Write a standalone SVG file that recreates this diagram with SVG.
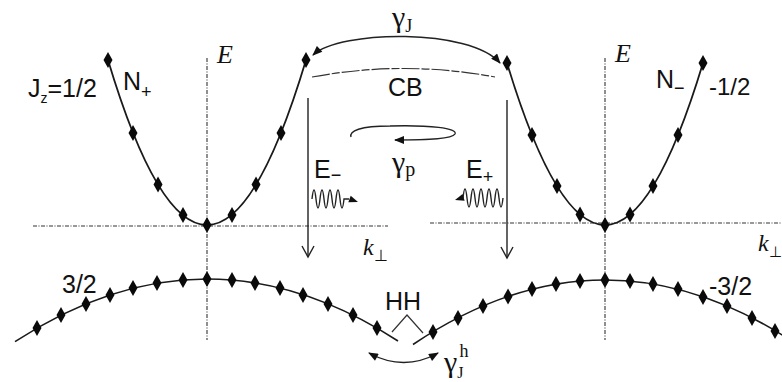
<svg xmlns="http://www.w3.org/2000/svg" xmlns:xlink="http://www.w3.org/1999/xlink" width="782" height="382" viewBox="0 0 782 382">
<style>
.band{fill:none;stroke:#1a1a1a;stroke-width:1.8}
.hband{fill:none;stroke:#1a1a1a;stroke-width:1.6}
.axis{fill:none;stroke:#333;stroke-width:1.1;stroke-dasharray:4 1.5 1 1.5}
.thin{fill:none;stroke:#333;stroke-width:1.2}
.arr{fill:none;stroke:#222;stroke-width:1.4}
.sans{font-family:"Liberation Sans",Arial,sans-serif;fill:#111}
.serif{font-family:"Liberation Serif","Times New Roman",serif;fill:#111}
.dm{fill:#0a0a0a}
</style>
<defs>
<path id="d" class="dm" d="M0,-8 L4.5,0 L0,8 L-4.5,0Z"/>
<marker id="ah" viewBox="0 0 10 8" refX="9" refY="4" markerWidth="11" markerHeight="8" markerUnits="userSpaceOnUse" orient="auto-start-reverse">
<path d="M0,0 L10,4 L0,8z" fill="#111"/>
</marker>
</defs>

<g id="axes">
<line class="axis" x1="207" y1="58" x2="207" y2="340"/>
<line class="axis" x1="605" y1="58" x2="605" y2="340"/>
<line class="axis" x1="33" y1="226" x2="388" y2="226"/>
<line class="axis" x1="430" y1="223" x2="782" y2="223"/>
<text class="serif" x="217" y="63" font-size="26" font-style="italic">E</text>
<text class="serif" x="615" y="62" font-size="26" font-style="italic">E</text>
<text class="serif" x="363" y="255" font-size="24" font-style="italic">k<tspan font-size="16" font-style="normal" dy="6">⊥</tspan></text>
<text class="serif" x="758" y="251" font-size="24" font-style="italic">k<tspan font-size="15" font-style="normal" dy="6">⊥</tspan></text>
</g>

<g id="band-Nplus">
<path class="band" d="M108,60 Q207,390 306,60"/>
<use xlink:href="#d" x="108" y="60"/>
<use xlink:href="#d" x="133" y="133"/>
<use xlink:href="#d" x="158" y="184.6"/>
<use xlink:href="#d" x="183" y="215"/>
<use xlink:href="#d" x="207" y="225"/>
<use xlink:href="#d" x="232" y="215"/>
<use xlink:href="#d" x="256" y="184.6"/>
<use xlink:href="#d" x="281" y="133"/>
<use xlink:href="#d" x="306" y="60"/>
<text class="sans" x="28" y="97" font-size="25">J<tspan font-size="14" dy="6">z</tspan><tspan dy="-6">=1/2</tspan></text>
<text class="sans" x="123" y="90" font-size="25">N<tspan font-size="18" dy="8">+</tspan></text>
</g>

<g id="band-Nminus">
<path class="band" d="M507,63 Q605,387 703,63"/>
<use xlink:href="#d" x="507" y="63"/>
<use xlink:href="#d" x="532" y="135"/>
<use xlink:href="#d" x="557" y="186"/>
<use xlink:href="#d" x="580" y="214.5"/>
<use xlink:href="#d" x="605" y="225"/>
<use xlink:href="#d" x="630" y="214.5"/>
<use xlink:href="#d" x="653" y="186"/>
<use xlink:href="#d" x="678" y="135"/>
<use xlink:href="#d" x="703" y="63"/>
<text class="sans" x="656" y="88" font-size="25">N<tspan font-size="18" dy="6">−</tspan></text>
<text class="sans" x="709" y="95" font-size="24">-1/2</text>
</g>

<g id="hole-left">
<path class="hband" d="M15,341.7 Q206.5,216.7 398,341"/>
<use xlink:href="#d" x="37" y="328"/>
<use xlink:href="#d" x="61" y="315"/>
<use xlink:href="#d" x="86" y="304"/>
<use xlink:href="#d" x="110" y="295"/>
<use xlink:href="#d" x="133" y="288"/>
<use xlink:href="#d" x="157" y="283"/>
<use xlink:href="#d" x="183" y="280"/>
<use xlink:href="#d" x="207" y="279"/>
<use xlink:href="#d" x="232" y="280"/>
<use xlink:href="#d" x="255" y="283"/>
<use xlink:href="#d" x="280" y="288"/>
<use xlink:href="#d" x="303" y="295"/>
<use xlink:href="#d" x="328" y="304"/>
<use xlink:href="#d" x="353" y="315"/>
<use xlink:href="#d" x="377" y="328"/>
<text class="sans" x="62" y="293" font-size="25">3/2</text>
</g>

<g id="hole-right">
<path class="hband" d="M413,344.5 Q601.5,217.8 790,339.9"/>
<use xlink:href="#d" x="433" y="332"/>
<use xlink:href="#d" x="458" y="318"/>
<use xlink:href="#d" x="483" y="306"/>
<use xlink:href="#d" x="508" y="296.5"/>
<use xlink:href="#d" x="532" y="289"/>
<use xlink:href="#d" x="556" y="284"/>
<use xlink:href="#d" x="580" y="281"/>
<use xlink:href="#d" x="605" y="280"/>
<use xlink:href="#d" x="630" y="281"/>
<use xlink:href="#d" x="653" y="284"/>
<use xlink:href="#d" x="678" y="289"/>
<use xlink:href="#d" x="703" y="297"/>
<use xlink:href="#d" x="727" y="306"/>
<use xlink:href="#d" x="752" y="318"/>
<use xlink:href="#d" x="775" y="331"/>
<text class="sans" x="709" y="295" font-size="25">-3/2</text>
</g>

<g id="CB">
<path class="thin" d="M312,77 Q405,60 495,77" stroke-dasharray="18 2 8 2"/>
<text class="sans" x="388" y="96" font-size="25">CB</text>
</g>

<g id="HH">
<polyline class="thin" points="392,332 407,315 423,333"/>
<text class="sans" x="385" y="310" font-size="25">HH</text>
</g>

<g id="connectors">
<path class="arr" d="M313,55 C340,30 470,28 500,63" marker-start="url(#ah)" marker-end="url(#ah)"/>
<path class="arr" d="M351,137 C349,131 360,126 390,126 C430,125 458,128 455,134 C452,139 430,140 395,140" marker-end="url(#ah)"/>
<path class="arr" d="M369,353 Q404,372 438,353" marker-start="url(#ah)" marker-end="url(#ah)"/>
<line class="arr" x1="308" y1="98" x2="308" y2="257"/>
<polyline class="arr" points="302,246 308,257 314,246"/>
<line class="arr" x1="507" y1="100" x2="507" y2="258"/>
<polyline class="arr" points="501,247 507,258 513,247"/>
<path class="arr" d="M312,199 q2,-18 4,0 t4,0 t4,0 t4,0 t4,0 t4,0 t4,0 t4,0 L349,199"/>
<polygon fill="#111" points="358,202 348.3,202.3 350.7,195.7"/>
<path class="arr" d="M463,198 q2,-18 4,0 t4,0 t4,0 t4,0 t4,0 t4,0 t4,0 t4,0 t4,0 t4,0"/>
<polygon fill="#111" points="455,200 464.6,200.8 462.6,194"/>
</g>

<g id="labels">
<text class="serif" x="392" y="27" font-size="30">γ<tspan font-size="18" dy="5">J</tspan></text>
<text class="serif" x="392" y="172" font-size="30">γ<tspan font-size="20" dy="4">p</tspan></text>
<text class="sans" x="314" y="178" font-size="25">E<tspan font-size="18" dy="3">−</tspan></text>
<text class="sans" x="466" y="178" font-size="25">E<tspan font-size="18" dy="5">+</tspan></text>
<text class="serif" x="444" y="372" font-size="30">γ<tspan font-size="16" dy="6">J</tspan><tspan font-size="18" dx="-4" dy="-21">h</tspan></text>
</g>
</svg>
